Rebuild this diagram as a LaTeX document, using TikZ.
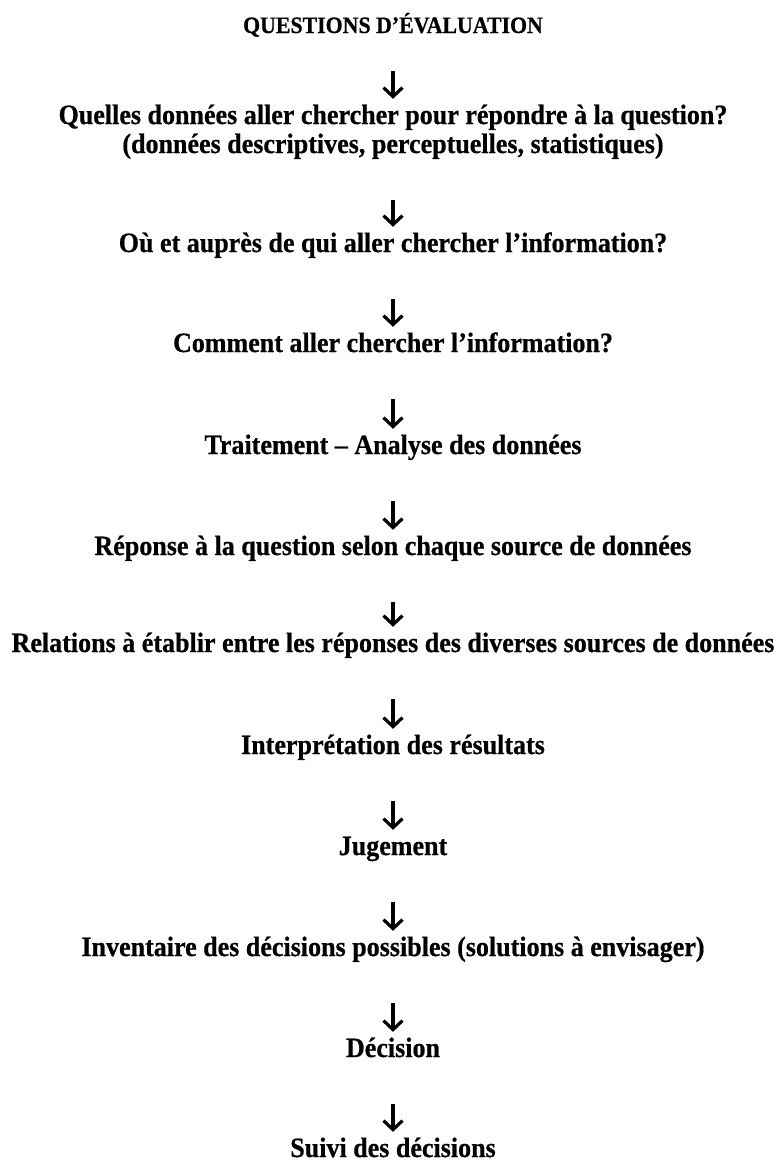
\documentclass[tikz,border=0pt]{standalone}
\usepackage{fontspec}
\setmainfont[FakeStretch=0.93, BoldFeatures={FakeBold=0.6}]{Liberation Serif}
\usetikzlibrary{arrows.meta}
\tikzset{stepnode/.style={anchor=base, inner sep=0pt, text height=20pt, text depth=0pt, align=center, font=\fontsize{28}{29}\selectfont\bfseries}}
\tikzset{titlenode/.style={stepnode, font=\fontsize{23.5}{25}\selectfont\bfseries}}
\tikzset{flow/.style={line width=3.2pt, -{Straight Barb[length=9pt,width=19pt]}, shorten <=47pt, shorten >=5pt}}

\begin{document}
\begin{tikzpicture}[x=1pt, y=-1pt]
				\useasboundingbox (0,0) rectangle (781,1163);

				\node[titlenode] (quest) at (393,33) {QUESTIONS D'ÉVALUATION};
				\node[stepnode, text height=49pt] (donnees) at (393,153) {Quelles données aller chercher pour répondre à la question?\\(données descriptives, perceptuelles, statistiques)}; % base = last line
				\node[stepnode] (ou) at (393,252) {Où et auprès de qui aller chercher l'information?};
				\node[stepnode] (comment) at (393,352) {Comment aller chercher l'information?};
				\node[stepnode] (traitement) at (393,454) {Traitement -- Analyse des données};
				\node[stepnode] (reponse) at (393,555) {Réponse à la question selon chaque source de données};
				\node[stepnode] (relations) at (393,652) {Relations à établir entre les réponses des diverses sources de données};
				\node[stepnode] (interp) at (393,754) {Interprétation des résultats};
				\node[stepnode] (jugement) at (393,855) {Jugement};
				\node[stepnode] (inventaire) at (393,956) {Inventaire des décisions possibles (solutions à envisager)};
				\node[stepnode] (decision) at (393,1057) {Décision};
				\node[stepnode] (suivi) at (393,1157) {Suivi des décisions};

				\draw[flow, shorten <=38pt] (quest) -- (donnees); % title sits closer
				\draw[flow] (donnees) -- (ou);
				\draw[flow] (ou) -- (comment);
				\draw[flow] (comment) -- (traitement);
				\draw[flow] (traitement) -- (reponse);
				\draw[flow] (reponse) -- (relations);
				\draw[flow] (relations) -- (interp);
				\draw[flow] (interp) -- (jugement);
				\draw[flow] (jugement) -- (inventaire);
				\draw[flow] (inventaire) -- (decision);
				\draw[flow] (decision) -- (suivi);

			\end{tikzpicture}
\end{document}
